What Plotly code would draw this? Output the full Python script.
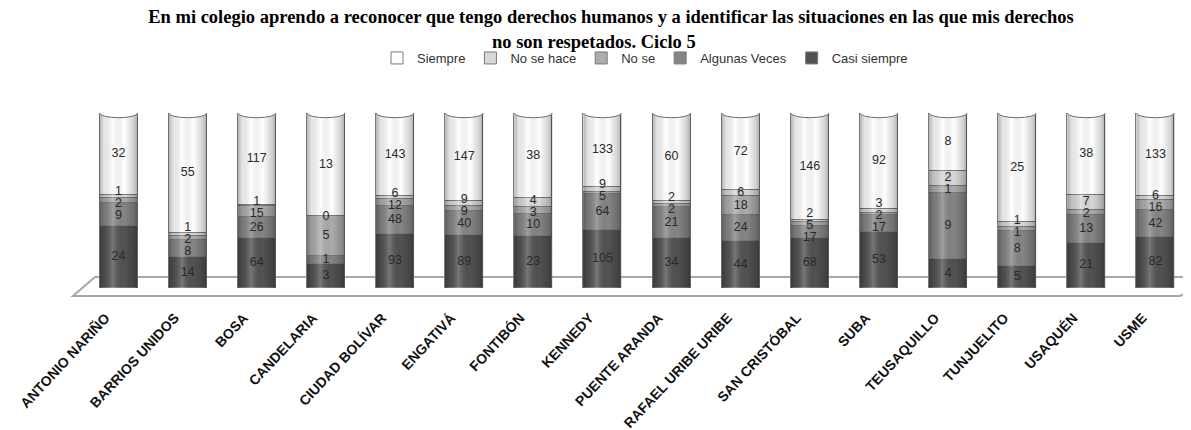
import plotly.graph_objects as go

# ---- data ----
localidades = ["ANTONIO NARIÑO", "BARRIOS UNIDOS", "BOSA", "CANDELARIA", "CIUDAD BOLÍVAR",
               "ENGATIVÁ", "FONTIBÓN", "KENNEDY", "PUENTE ARANDA", "RAFAEL URIBE URIBE",
               "SAN CRISTÓBAL", "SUBA", "TEUSAQUILLO", "TUNJUELITO", "USAQUÉN", "USME"]
casi_siempre = [24, 14, 64, 3, 93, 89, 23, 105, 34, 44, 68, 53, 4, 5, 21, 82]
algunas_veces = [9, 8, 26, 1, 48, 40, 10, 64, 21, 24, 17, 17, 9, 8, 13, 42]
no_se = [2, 2, 15, 5, 12, 9, 3, 5, 2, 18, 5, 2, 1, 1, 2, 16]
no_se_hace = [1, 1, 1, 0, 6, 9, 4, 9, 2, 6, 2, 3, 2, 1, 7, 6]
siempre = [32, 55, 117, 13, 143, 147, 38, 133, 60, 72, 146, 92, 8, 25, 38, 133]

series_names = ["Casi siempre", "Algunas Veces", "No se", "No se hace", "Siempre"]
series_values = [casi_siempre, algunas_veces, no_se, no_se_hace, siempre]
series_colors = ["#525252", "#858585", "#acacac", "#d8d8d8", "#ffffff"]

title_line1 = "En mi colegio aprendo a reconocer que tengo derechos humanos y a identificar las situaciones en las que mis derechos"
title_line2 = "no son respetados. Ciclo 5"

# ---- geometry (screen pixels; the page body adds an 8px margin) ----
OFF = 8
FW, FH = 1191 - OFF, 430 - OFF
SL, SR, ST, SB = 84, 1190, 113, 288          # plot area on screen
L, R, T, B = SL - OFF, SR - OFF, ST - OFF, SB - OFF
PW, PH = R - L, B - T
def px(x):
    return (x - SL) / PW
def py(y):
    return (SB - y) / PH

n = len(localidades)
xs = list(range(n))
totals = [sum(s[i] for s in series_values) for i in range(n)]
BW = 0.55

fig = go.Figure()

for name, vals, col in zip(series_names, series_values, series_colors):
    frac = [v / t for v, t in zip(vals, totals)]
    fig.add_trace(go.Bar(
        x=xs, y=frac, name=name, width=BW,
        marker=dict(color=col, line=dict(color="#7a7a7a", width=1)),
        hoverinfo="skip",
    ))

# cylinder shading overlay (one per column)
shade = [[0, "rgba(0,0,0,0.30)"], [0.12, "rgba(0,0,0,0.10)"], [0.35, "rgba(255,255,255,0.22)"],
         [0.65, "rgba(0,0,0,0.0)"], [0.9, "rgba(0,0,0,0.18)"], [1, "rgba(0,0,0,0.34)"]]
for i in xs:
    fig.add_trace(go.Scatter(
        x=[i - BW / 2, i + BW / 2, i + BW / 2, i - BW / 2, i - BW / 2],
        y=[0, 0, 1, 1, 0], mode="lines", fill="toself",
        fillgradient=dict(type="horizontal", colorscale=shade),
        line=dict(width=0, color="rgba(0,0,0,0)"),
        showlegend=False, hoverinfo="skip",
    ))

# data labels at segment centres, spread a little where they would collide
MIN_GAP = 12.0 / PH
lx, ly, lt = [], [], []
for i in xs:
    cum = 0
    pos = []
    for vals in series_values:
        v = vals[i]
        pos.append((cum + v / 2) / totals[i])
        cum += v
    for _ in range(300):
        moved = False
        for k in range(1, len(pos)):
            d = pos[k] - pos[k - 1]
            if d < MIN_GAP - 1e-9:
                delta = (MIN_GAP - d) / 2
                pos[k] += delta
                pos[k - 1] -= delta
                moved = True
        if not moved:
            break
    for vals, p in zip(series_values, pos):
        lx.append(i)
        ly.append(p)
        lt.append(str(vals[i]))
fig.add_trace(go.Scatter(
    x=lx, y=ly, text=lt, mode="text",
    textfont=dict(family="Liberation Sans", size=12.5, color="#2a2a2a"),
    showlegend=False, hoverinfo="skip",
))

# top caps of the cylinders
for i in xs:
    fig.add_shape(type="circle", xref="x", yref="y",
                  x0=i - BW / 2, x1=i + BW / 2, y0=1 - 0.027, y1=1 + 0.027,
                  fillcolor="#ffffff", line=dict(color="#6e6e6e", width=1), layer="above")

# floor of the 3D plot
floor = (f"M {px(95)} {py(277)} L {px(1215)} {py(277)} L {px(1180)} {py(296)} "
         f"L {px(73)} {py(296)} Z")
fig.add_shape(type="path", xref="paper", yref="paper", path=floor,
              fillcolor="#ffffff", line=dict(color="#a8a8a8", width=2), layer="below")

fig.add_annotation(text=title_line2, xref="paper", yref="paper", x=px(594), y=py(42),
                   xanchor="center", yanchor="middle", showarrow=False,
                   font=dict(family="Liberation Serif", size=18.5, color="#000", weight="bold"))

fig.update_layout(
    width=FW, height=FH,
    margin=dict(l=L, r=FW - R, t=T, b=FH - B, autoexpand=False),
    paper_bgcolor="white", plot_bgcolor="rgba(0,0,0,0)",
    barmode="stack", bargap=0,
    title=dict(text=title_line1, x=(611 - OFF) / FW, xanchor="center",
               y=1 - (17 - OFF) / FH, yanchor="middle",
               font=dict(family="Liberation Serif", size=18.5, color="#000", weight="bold")),
    legend=dict(orientation="h", traceorder="reversed", x=px(645), xanchor="center",
                y=py(58), yanchor="middle", font=dict(family="Liberation Sans", size=13, color="#333"),
                itemwidth=30, bgcolor="rgba(0,0,0,0)"),
    xaxis=dict(range=[-0.5, n - 0.5], tickmode="array", tickvals=xs, ticktext=localidades,
               tickangle=-47, showgrid=False, zeroline=False, showline=False, ticks="",
               automargin=False, ticklabelstandoff=18, ticklabelshift=-13,
               ticklabeloverflow="allow",
               tickfont=dict(family="Liberation Sans", size=14, color="#111", weight="bold")),
    yaxis=dict(range=[0, 1], visible=False, showgrid=False, zeroline=False, automargin=False),
    showlegend=True,
)

fig.write_html("out.html")
